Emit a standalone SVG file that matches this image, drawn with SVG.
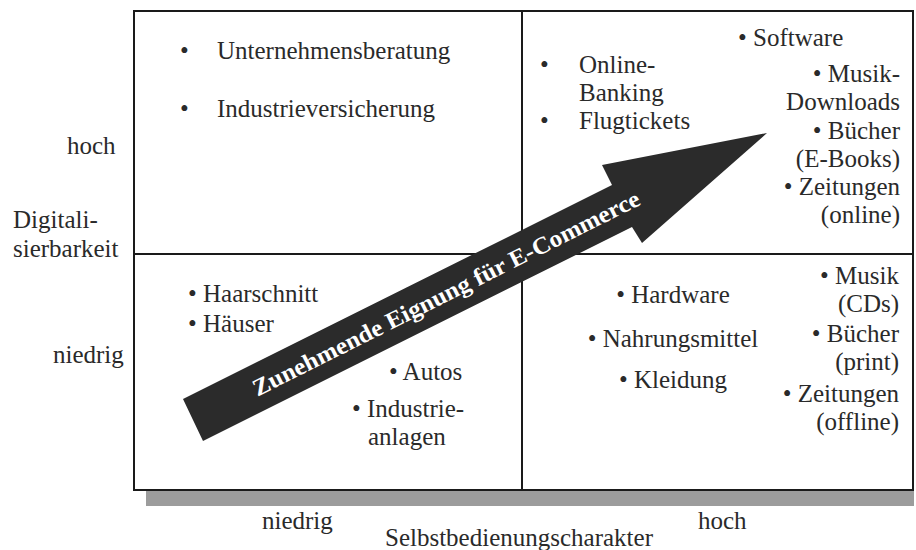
<svg xmlns="http://www.w3.org/2000/svg" width="916" height="550" viewBox="0 0 916 550">
<style>
text{font-family:"Liberation Serif","DejaVu Serif",serif;font-size:25px;fill:#2a2a2a}
.r{text-anchor:end}
.m{text-anchor:middle}
.ln{stroke:#1a1a1a;stroke-width:2;fill:none}
.at{font-weight:bold;fill:#ffffff;font-size:24px}
</style>
<rect width="916" height="550" fill="#ffffff"/>
<g id="frame">
<rect x="146" y="491" width="768" height="15" fill="#9c9c9c"/>
<rect class="ln" x="134" y="11" width="779" height="479"/>
<line class="ln" x1="522" y1="11" x2="522" y2="490"/>
<line class="ln" x1="134" y1="254" x2="913" y2="254"/>
</g>
<g id="y-axis">
<text x="67" y="154">hoch</text>
<text x="13" y="228">Digitali-</text>
<text x="13" y="257">sierbarkeit</text>
<text x="53" y="363">niedrig</text>
</g>
<g id="x-axis">
<text x="262" y="529">niedrig</text>
<text x="385" y="546">Selbstbedienungscharakter</text>
<text x="698" y="529">hoch</text>
</g>
<g id="quadrant-top-left">
<text x="180" y="59">•</text>
<text x="217" y="59">Unternehmensberatung</text>
<text x="180" y="117">•</text>
<text x="217" y="117">Industrieversicherung</text>
</g>
<g id="quadrant-top-right">
<text x="540" y="73">•</text>
<text x="579" y="73">Online-</text>
<text x="579" y="101">Banking</text>
<text x="540" y="129">•</text>
<text x="579" y="129">Flugtickets</text>
<text x="738" y="46">• Software</text>
<text class="r" x="900" y="82">• Musik-</text>
<text class="r" x="900" y="110">Downloads</text>
<text class="r" x="900" y="139">• Bücher</text>
<text class="r" x="900" y="167">(E-Books)</text>
<text class="r" x="900" y="195">• Zeitungen</text>
<text class="r" x="900" y="223">(online)</text>
</g>
<g id="quadrant-bottom-left">
<text x="188" y="302">• Haarschnitt</text>
<text x="188" y="332">• Häuser</text>
<text x="389" y="380">• Autos</text>
<text x="352" y="417">• Industrie-</text>
<text x="368" y="445">anlagen</text>
</g>
<g id="quadrant-bottom-right">
<text class="m" x="673" y="303">• Hardware</text>
<text class="m" x="673" y="347">• Nahrungsmittel</text>
<text class="m" x="673" y="388">• Kleidung</text>
<text class="r" x="899" y="284">• Musik</text>
<text class="r" x="899" y="312">(CDs)</text>
<text class="r" x="899" y="342">• Bücher</text>
<text class="r" x="899" y="370">(print)</text>
<text class="r" x="899" y="402">• Zeitungen</text>
<text class="r" x="899" y="430">(offline)</text>
</g>
<g id="connectors">
<g id="arrow">
<polygon points="183,399 612,185 602,165 767,133 642,243 632,227 203,441" fill="#2b2b2b"/>
<text class="at" transform="translate(193,420) rotate(-26.6)" x="68" y="8" textLength="430" lengthAdjust="spacingAndGlyphs">Zunehmende Eignung für E-Commerce</text>
</g>
</g>
</svg>
